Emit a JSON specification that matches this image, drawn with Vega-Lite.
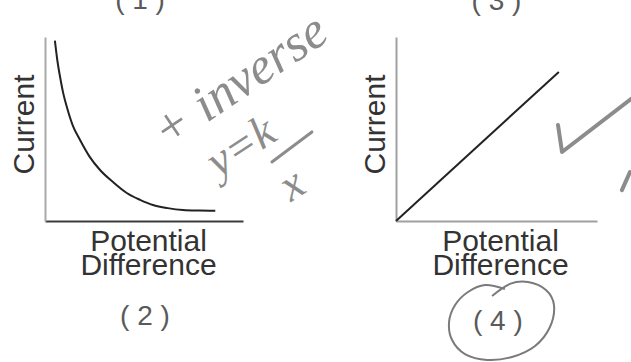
{
  "$schema": "https://vega.github.io/schema/vega-lite/v6.json",
  "autosize": {"type": "none"},
  "padding": {"left": 45, "top": 37, "right": 586, "bottom": 325},
  "bounds": "flush",
  "spacing": 153,
  "background": "white",
  "config": {
    "view": {"stroke": null},
    "axis": {
      "ticks": false,
      "labels": false,
      "grid": false,
      "domainWidth": 2,
      "titleFont": "Liberation Sans",
      "titleFontSize": 30,
      "titleFontWeight": "normal",
      "titleColor": "#333333",
      "titleLineHeight": 24
    }
  },
  "datasets": {
    "curve": [
      {"pd": 0.50, "current": 9.80},
      {"pd": 0.62, "current": 8.75},
      {"pd": 0.76, "current": 7.84},
      {"pd": 0.92, "current": 6.95},
      {"pd": 1.10, "current": 6.21},
      {"pd": 1.40, "current": 5.20},
      {"pd": 1.77, "current": 4.40},
      {"pd": 2.25, "current": 3.50},
      {"pd": 2.78, "current": 2.77},
      {"pd": 3.45, "current": 2.10},
      {"pd": 4.13, "current": 1.52},
      {"pd": 4.80, "current": 1.15},
      {"pd": 5.45, "current": 0.87},
      {"pd": 6.20, "current": 0.70},
      {"pd": 6.97, "current": 0.60},
      {"pd": 7.80, "current": 0.57},
      {"pd": 8.60, "current": 0.56}
    ],
    "straight": [
      {"pd": 0, "current": 0},
      {"pd": 8.1, "current": 8.1}
    ],
    "labels2": [
      {"pd": 4.8, "current": 11.96, "t": "( 1 )"},
      {"pd": 5.05, "current": -5.22, "t": "( 2 )"}
    ],
    "labels4": [
      {"pd": 5.0, "current": 11.9, "t": "( 3 )"},
      {"pd": 5.07, "current": -5.49, "t": "( 4 )"}
    ],
    "note1": [
      {"pd": 9.85, "current": 7.6, "t": "+ inverse"}
    ],
    "note2": [
      {"pd": 9.9, "current": 4.02, "t": "y=k"},
      {"pd": 12.47, "current": 1.96, "t": "x"}
    ],
    "bar": [
      {"pd": 11.46, "current": 3.21},
      {"pd": 13.48, "current": 4.84}
    ],
    "loop": [
      {"i": 0, "pd": 5.42, "current": -3.70},
      {"i": 1, "pd": 4.43, "current": -3.48},
      {"i": 2, "pd": 3.58, "current": -3.86},
      {"i": 3, "pd": 2.94, "current": -4.57},
      {"i": 4, "pd": 2.64, "current": -5.49},
      {"i": 5, "pd": 2.79, "current": -6.47},
      {"i": 6, "pd": 3.43, "current": -7.23},
      {"i": 7, "pd": 4.53, "current": -7.55},
      {"i": 8, "pd": 5.77, "current": -7.39},
      {"i": 9, "pd": 6.92, "current": -6.79},
      {"i": 10, "pd": 7.66, "current": -5.76},
      {"i": 11, "pd": 7.86, "current": -4.57},
      {"i": 12, "pd": 7.46, "current": -3.75},
      {"i": 13, "pd": 6.57, "current": -3.32},
      {"i": 14, "pd": 5.67, "current": -3.42},
      {"i": 15, "pd": 4.78, "current": -4.08}
    ],
    "tick": [
      {"part": "check", "pd": 8.06, "current": 5.22},
      {"part": "check", "pd": 8.26, "current": 3.75},
      {"part": "check", "pd": 12.14, "current": 7.01},
      {"part": "hook", "pd": 11.24, "current": 1.68},
      {"part": "hook", "pd": 11.64, "current": 2.66}
    ]
  },
  "hconcat": [
    {
      "width": 198,
      "height": 184,
      "encoding": {
        "x": {
          "field": "pd",
          "type": "quantitative",
          "scale": {"domain": [0, 10], "nice": false, "zero": false},
          "axis": {"title": ["Potential", "Difference"], "titlePadding": 5, "titleX": 103, "domainColor": "#3c3c3c"}
        },
        "y": {
          "field": "current",
          "type": "quantitative",
          "scale": {"domain": [0, 10], "nice": false, "zero": false},
          "axis": {"title": "Current", "titlePadding": 6, "titleY": 87, "domainColor": "#a8a8a8"}
        }
      },
      "layer": [
        {
          "data": {"name": "curve"},
          "mark": {"type": "line", "color": "#222222", "strokeWidth": 2, "interpolate": "monotone"}
        },
        {
          "data": {"name": "labels2"},
          "mark": {"type": "text", "font": "Liberation Sans", "fontSize": 28, "color": "#5a5a5a", "baseline": "middle"},
          "encoding": {"text": {"field": "t"}}
        },
        {
          "data": {"name": "note1"},
          "mark": {"type": "text", "font": "Liberation Serif", "fontStyle": "italic", "fontSize": 52, "color": "#8c8c8c", "angle": 326, "baseline": "middle"},
          "encoding": {"text": {"field": "t"}}
        },
        {
          "data": {"name": "note2"},
          "mark": {"type": "text", "font": "Liberation Serif", "fontStyle": "italic", "fontSize": 46, "color": "#8c8c8c", "angle": 327, "baseline": "middle"},
          "encoding": {"text": {"field": "t"}}
        },
        {
          "data": {"name": "bar"},
          "mark": {"type": "line", "color": "#8c8c8c", "strokeWidth": 3, "strokeCap": "round"}
        }
      ]
    },
    {
      "width": 201,
      "height": 184,
      "encoding": {
        "x": {
          "field": "pd",
          "type": "quantitative",
          "scale": {"domain": [0, 10], "nice": false, "zero": false},
          "axis": {"title": ["Potential", "Difference"], "titlePadding": 5, "titleX": 104, "domainColor": "#a0a0a0"}
        },
        "y": {
          "field": "current",
          "type": "quantitative",
          "scale": {"domain": [0, 10], "nice": false, "zero": false},
          "axis": {"title": "Current", "titlePadding": 6, "titleY": 87, "domainColor": "#a0a0a0"}
        }
      },
      "layer": [
        {
          "data": {"name": "straight"},
          "mark": {"type": "line", "color": "#222222", "strokeWidth": 2}
        },
        {
          "data": {"name": "labels4"},
          "mark": {"type": "text", "font": "Liberation Sans", "fontSize": 28, "color": "#5a5a5a", "baseline": "middle"},
          "encoding": {"text": {"field": "t"}}
        },
        {
          "data": {"name": "loop"},
          "mark": {"type": "line", "color": "#7a7a7a", "strokeWidth": 2, "interpolate": "cardinal"},
          "encoding": {"order": {"field": "i"}}
        },
        {
          "data": {"name": "tick"},
          "mark": {"type": "line", "color": "#8c8c8c", "strokeWidth": 4, "strokeCap": "round", "strokeJoin": "round"},
          "encoding": {"detail": {"field": "part"}}
        }
      ]
    }
  ]
}
